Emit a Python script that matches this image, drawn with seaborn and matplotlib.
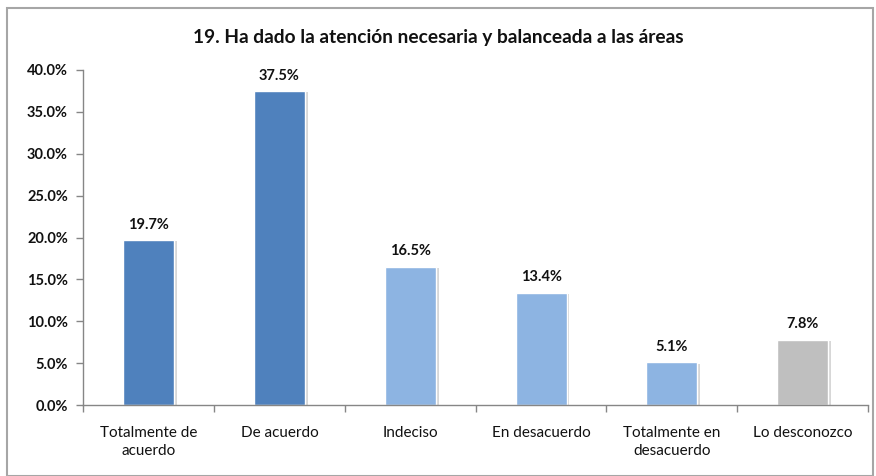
import matplotlib
matplotlib.use("Agg")
import matplotlib.pyplot as plt
import matplotlib.patheffects as pe
from matplotlib.patches import Rectangle
import seaborn as sns
import pandas as pd
import numpy as np

categories = ["Totalmente de\nacuerdo", "De acuerdo", "Indeciso", "En desacuerdo",
              "Totalmente en\ndesacuerdo", "Lo desconozco"]
values = [19.7, 37.5, 16.5, 13.4, 5.1, 7.8]
colors = ["#4F81BD", "#4F81BD", "#8DB4E2", "#8DB4E2", "#8DB4E2", "#BFBFBF"]
title = "19. Ha dado la atención necesaria y balanceada a las áreas"
yticks = [0, 5, 10, 15, 20, 25, 30, 35, 40]

sns.set_theme(style="white")
plt.rcParams["font.family"] = ["Lato", "DejaVu Sans"]

df = pd.DataFrame({"cat": categories, "val": values})

fig = plt.figure(figsize=(8.76, 4.76), dpi=100)
ax = fig.add_axes([0.095, 0.149, 0.896, 0.704])

sns.barplot(data=df, x="cat", y="val", hue="cat", palette=colors, legend=False,
            width=0.39, ax=ax, saturation=1)

for p in ax.patches:
    p.set_path_effects([pe.SimplePatchShadow(offset=(2, -1), shadow_rgbFace="#b0b0b0", alpha=0.5),
                        pe.Normal()])

for i, v in enumerate(values):
    ax.text(i, v + 1.0, f"{v:.1f}%", ha="center", va="bottom", fontsize=10.5,
            fontweight="bold", color="#111111")

ax.set_ylim(0, 40)
ax.set_xlim(-0.5, len(categories) - 0.5)
ax.set_yticks(yticks)
ax.set_yticklabels([f"{t:.1f}%" for t in yticks], fontsize=10.5, fontweight="bold", color="#111111")
ax.set_xticks(range(len(categories)))
ax.set_xticklabels(categories, fontsize=11, color="#111111", linespacing=1.35)
ax.tick_params(axis="x", length=0, pad=15)
ax.tick_params(axis="y", left=True, length=5, color="#868686", width=1, pad=6)
ax.set_xticks(np.arange(-0.5, len(categories) + 0.5, 1), minor=True)
ax.tick_params(axis="x", which="minor", bottom=True, length=5, color="#868686", width=1)
ax.set_xlabel("")
ax.set_ylabel("")
for s in ["top", "right"]:
    ax.spines[s].set_visible(False)
for s in ["left", "bottom"]:
    ax.spines[s].set_color("#868686")
    ax.spines[s].set_linewidth(1)

fig.text(0.5, 1 - 38 / 476, title, ha="center", va="center", fontsize=13.8, fontweight="bold",
         color="#111111")

fig.patches.append(Rectangle((7 / 876, 0.0), 866 / 876, 1 - 8 / 476, transform=fig.transFigure,
                             fill=False, edgecolor="#a6a6a6", linewidth=1.5))

fig.savefig("out.png", dpi=100)
